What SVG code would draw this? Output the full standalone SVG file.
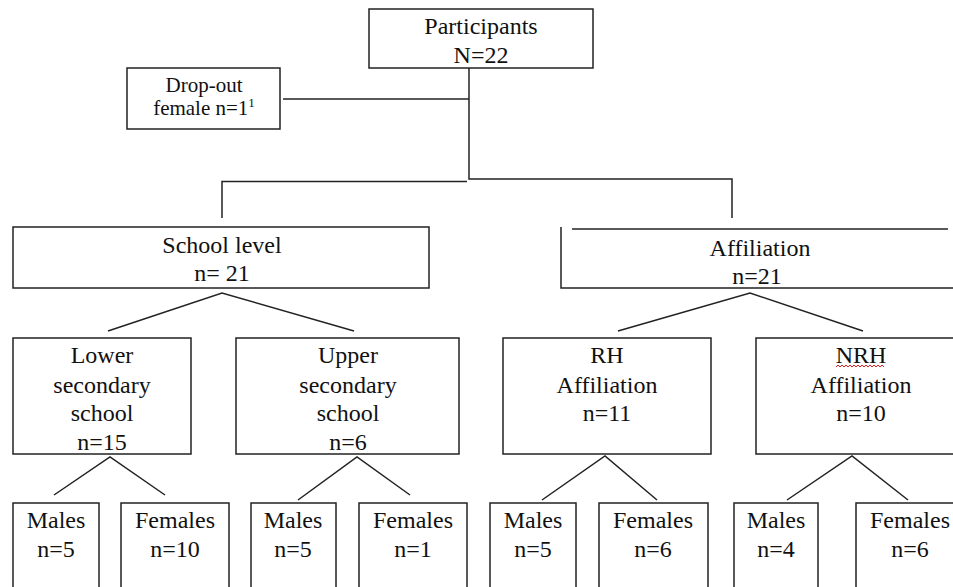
<svg xmlns="http://www.w3.org/2000/svg" width="953" height="587" viewBox="0 0 953 587">
<style>
.b{fill:#fff;stroke:#222;stroke-width:1.5}
.l{fill:none;stroke:#222;stroke-width:1.5}
.t{font-size:24px;fill:#111;text-anchor:middle}
.s{font-size:21px;fill:#111;text-anchor:middle}
</style>
<rect width="953" height="587" fill="#fff"/>
<g id="connectors" class="l">
<path d="M469 68 V179 H732 V218"/>
<path d="M283 99 H469"/>
<path d="M222 218 V181.5 H467"/>
<path d="M108 331 L222 293 L354 331"/>
<path d="M618 331 L750 293 L863 331"/>
<path d="M54 495 L110 457 L165 495"/>
<path d="M298 500 L357 457 L410 495"/>
<path d="M542 500 L605 456 L657 500"/>
<path d="M787 500 L852 456 L908 500"/>
</g>
<g font-family="Liberation Serif, DejaVu Serif, serif">
<g id="participants"><rect class="b" x="369" y="9" width="224" height="59"/><text class="t" x="481" y="34">Participants</text><text class="t" x="481" y="63">N=22</text></g>
<g id="dropout"><rect class="b" x="127" y="68" width="153" height="61"/><text class="s" x="204" y="92">Drop-out</text><text class="s" x="204" y="115">female n=1<tspan font-size="13" dy="-8">1</tspan></text></g>
<g id="school-level"><rect class="b" x="13" y="227" width="416" height="61"/><text class="t" x="222" y="253">School level</text><text class="t" x="222" y="281">n= 21</text></g>
<g id="affiliation"><path class="l" d="M561 227 V288 H953"/><path class="l" d="M572 229 H948"/><text class="t" x="760" y="256">Affiliation</text><text class="t" x="757" y="284">n=21</text></g>
<g id="lower-secondary"><rect class="b" x="13" y="338" width="178" height="116"/><text class="t" x="102" y="363">Lower</text><text class="t" x="102" y="393">secondary</text><text class="t" x="102" y="421">school</text><text class="t" x="102" y="450">n=15</text></g>
<g id="upper-secondary"><rect class="b" x="236" y="338" width="223" height="116"/><text class="t" x="348" y="363">Upper</text><text class="t" x="348" y="393">secondary</text><text class="t" x="348" y="421">school</text><text class="t" x="348" y="450">n=6</text></g>
<g id="rh"><rect class="b" x="503" y="338" width="208" height="116"/><text class="t" x="607" y="363">RH</text><text class="t" x="607" y="393">Affiliation</text><text class="t" x="607" y="421">n=11</text></g>
<g id="nrh"><rect class="b" x="756" y="338" width="210" height="116"/><text class="t" x="861" y="363">NRH</text><path d="M836 367 l2 -2 l2 2 l2 -2 l2 2 l2 -2 l2 2 l2 -2 l2 2 l2 -2 l2 2 l2 -2 l2 2 l2 -2 l2 2 l2 -2 l2 2 l2 -2 l2 2 l2 -2 l2 2 l2 -2 l2 2 l2 -2 l2 2" fill="none" stroke="#e02020" stroke-width="1"/><text class="t" x="861" y="393">Affiliation</text><text class="t" x="861" y="421">n=10</text></g>
<g id="ls-males"><rect class="b" x="13" y="503" width="86" height="100"/><text class="t" x="56" y="528">Males</text><text class="t" x="56" y="557">n=5</text></g>
<g id="ls-females"><rect class="b" x="121" y="503" width="108" height="100"/><text class="t" x="175" y="528">Females</text><text class="t" x="175" y="557">n=10</text></g>
<g id="us-males"><rect class="b" x="251" y="503" width="85" height="100"/><text class="t" x="293" y="528">Males</text><text class="t" x="293" y="557">n=5</text></g>
<g id="us-females"><rect class="b" x="359" y="503" width="108" height="100"/><text class="t" x="413" y="528">Females</text><text class="t" x="413" y="557">n=1</text></g>
<g id="rh-males"><rect class="b" x="490" y="503" width="86" height="100"/><text class="t" x="533" y="528">Males</text><text class="t" x="533" y="557">n=5</text></g>
<g id="rh-females"><rect class="b" x="599" y="503" width="109" height="100"/><text class="t" x="653" y="528">Females</text><text class="t" x="653" y="557">n=6</text></g>
<g id="nrh-males"><rect class="b" x="734" y="503" width="84" height="100"/><text class="t" x="776" y="528">Males</text><text class="t" x="776" y="557">n=4</text></g>
<g id="nrh-females"><rect class="b" x="856" y="503" width="110" height="100"/><text class="t" x="910" y="528">Females</text><text class="t" x="910" y="557">n=6</text></g>
</g>
</svg>
